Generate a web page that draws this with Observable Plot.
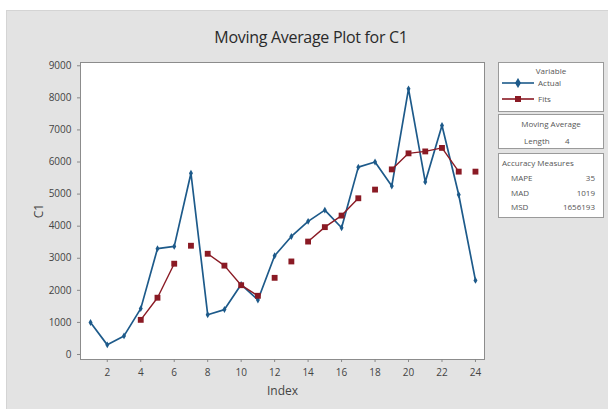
<!DOCTYPE html>
<html><head><meta charset="utf-8">
<script src="https://cdn.jsdelivr.net/npm/d3@7"></script>
<script src="https://cdn.jsdelivr.net/npm/@observablehq/plot@0.6"></script>
<style>
body{margin:0;background:#fff;}
#wrap{position:relative;width:608px;height:409px;overflow:hidden;font-family:"Open Sans",sans-serif;}
#panel{position:absolute;left:6px;top:10px;width:604px;height:401px;background:#e3e3e3;border:1px solid #d4d4d4;box-sizing:border-box;}
#title{position:absolute;left:0;width:622px;top:26px;text-align:center;font-size:16px;color:#2a2a2a;letter-spacing:-0.3px;}
#chart{position:absolute;left:0;top:0;}
.box{position:absolute;left:498px;width:106px;background:#fff;border:1px solid #9a9a9a;box-sizing:border-box;font-size:8px;color:#555;}
.box span{position:absolute;line-height:10px;white-space:nowrap;}
</style></head>
<body>
<div id="wrap">
  <div id="panel"></div>
  <div id="title">Moving Average Plot for C1</div>
  <div id="chart"></div>
  <div class="box" id="box1" style="top:62px;height:50px;"></div>
  <div class="box" id="box2" style="top:114px;height:35px;"></div>
  <div class="box" id="box3" style="top:153px;height:65px;"></div>
</div>
<script>
// ---- data ----
const indexValues = [1,2,3,4,5,6,7,8,9,10,11,12,13,14,15,16,17,18,19,20,21,22,23,24];
const actualValues = [1000,300,580,1430,3300,3370,5650,1240,1400,2180,1700,3080,3680,4150,4500,3950,5840,6000,5250,8280,5380,7140,4980,2310];
const fitValues = [null,null,null,1080,1770,2830,3390,3140,2770,2160,1830,2390,2900,3520,3970,4330,4870,5140,5770,6270,6330,6440,5700,5700];
// which fits are joined by the drawn red line (gaps as seen in the picture)
const fitSegment = [null,null,null,1,1,1,null,2,2,2,2,null,null,3,3,3,3,null,4,4,4,4,4,null];
const xTicks = [2,4,6,8,10,12,14,16,18,20,22,24];
const yTicks = [0,1000,2000,3000,4000,5000,6000,7000,8000,9000];
const seriesNames = ["Actual","Fits"];
const accuracyNames = ["MAPE","MAD","MSD"];
const accuracyValues = ["35","1019","1656193"];
const maLength = 4;

const blue = "#1d5a8a", red = "#8a1a24";

const actualRows = indexValues.map((t,i)=>({index:t, value:actualValues[i]}));
const fitRows = indexValues.map((t,i)=>({index:t, value:fitValues[i], seg:fitSegment[i]})).filter(d=>d.value!=null);
const fitLineRows = fitRows.filter(d=>d.seg!=null);

const chart = Plot.plot({
  width:608, height:409,
  marginLeft:80, marginRight:124, marginTop:62, marginBottom:50,
  style:{background:"transparent", color:"#444", fontFamily:"'Open Sans',sans-serif", fontSize:"10px"},
  x:{domain:[0.4,24.54]},
  y:{domain:[-156,9102]},
  marks:[
    Plot.frame({fill:"white"}),
    Plot.line(actualRows,{x:"index",y:"value",stroke:blue,strokeWidth:1.7}),
    Plot.line(fitLineRows,{x:"index",y:"value",z:"seg",stroke:red,strokeWidth:1.4}),
    Plot.dot(actualRows,{x:"index",y:"value",symbol:"diamond",r:2.1,fill:blue}),
    Plot.dot(fitRows,{x:"index",y:"value",symbol:"square",r:3.3,fill:red}),
    Plot.frame({stroke:"#8c8c8c"}),
    Plot.axisX({ticks:xTicks,tickSize:3,stroke:"#888",fill:"#444",label:"Index",labelAnchor:"center",labelArrow:"none",labelOffset:35}),
    Plot.axisY({ticks:yTicks,tickSize:3,stroke:"#888",fill:"#444",tickFormat:d3.format("d"),label:"C1",labelAnchor:"center",labelArrow:"none",labelOffset:46})
  ]
});
document.getElementById("chart").appendChild(chart);
d3.select(chart).selectAll('[aria-label="x-axis label"] text, [aria-label="y-axis label"] text').attr("font-size",12).attr("fill","#444");

// legend boxes
const b1 = d3.select("#box1");
b1.append("span").style("left","0").style("width","104px").style("text-align","center").style("top","3px").text("Variable");
seriesNames.forEach((n,i)=>{
  const y = 17 + i*16;
  const c = i===0?blue:red;
  const s = b1.append("span").style("left","3px").style("top",(y-2)+"px");
  const sv = s.append("svg").attr("width",32).attr("height",10).style("vertical-align","top");
  sv.append("line").attr("x1",0).attr("x2",32).attr("y1",5).attr("y2",5).attr("stroke",c).attr("stroke-width",1.6);
  if(i===0) sv.append("path").attr("d",d3.symbol(d3.symbolDiamond,30)()).attr("transform","translate(16,5)").attr("fill",c);
  else sv.append("rect").attr("x",13).attr("y",2).attr("width",6).attr("height",6).attr("fill",c);
  b1.append("span").style("left","39px").style("top",(y-2)+"px").text(n);
});
const b2 = d3.select("#box2");
b2.append("span").style("left","0").style("width","104px").style("text-align","center").style("top","4px").text("Moving Average");
b2.append("span").style("left","25px").style("top","21px").text("Length");
b2.append("span").style("left","66px").style("top","21px").text(String(maLength));
const b3 = d3.select("#box3");
b3.append("span").style("left","3px").style("top","4px").text("Accuracy Measures");
accuracyNames.forEach((n,i)=>{
  const y = 19 + i*14.5;
  b3.append("span").style("left","12px").style("top",y+"px").text(n);
  b3.append("span").style("right","8px").style("top",y+"px").text(accuracyValues[i]);
});
</script>
</body></html>
